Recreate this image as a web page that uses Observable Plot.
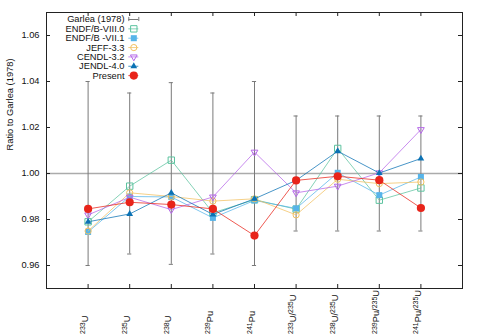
<!DOCTYPE html>
<html><head><meta charset="utf-8">
<script src="https://cdn.jsdelivr.net/npm/d3@7"></script>
<script src="https://cdn.jsdelivr.net/npm/@observablehq/plot@0.6"></script>
<style>body{margin:0;background:#fff} svg{display:block}</style>
</head><body><div id="chart"></div>
<script>
// ---- data ----
const categories = ["233U","235U","238U","239Pu","241Pu","233U/235U","238U/235U","239Pu/235U","241Pu/235U"];
const garleaValue = [1,1,1,1,1,1,1,1,1];
const garleaError = [0.04,0.035,0.0395,0.035,0.04,0.025,0.025,0.025,0.025];
const endf80  = [0.979,0.9945,1.0058,0.9829,0.9886,0.9845,1.0109,0.9884,0.9937];
const endf71  = [0.9746,0.990,0.9898,0.9807,0.9883,0.9848,1.0003,0.9906,0.9985];
const jeff33  = [0.975,0.9916,0.990,0.988,0.989,0.982,0.9975,0.9956,0.9963];
const cendl32 = [0.982,0.9897,0.9843,0.9898,1.0093,0.9916,0.9945,1.0003,1.0191];
const jendl40 = [0.979,0.9824,0.9916,0.9822,0.9890,0.997,1.0097,1.0002,1.0065];
const present = [0.9846,0.9875,0.9865,0.9846,0.973,0.997,0.9988,0.9971,0.985];
const yTicks = [0.96,0.98,1.00,1.02,1.04,1.06];
const seriesNames = ["Garlea (1978)","ENDF/B-VIII.0","ENDF/B -VII.1","JEFF-3.3","CENDL-3.2","JENDL-4.0","Present"];

// ---- layout ----
const W = 479, H = 335, mL = 46, mR = 17, mT = 12, mB = 47;
const plotW = W - mL - mR, plotH = H - mT - mB;
const yDomain = [0.95, 1.07], xDomain = [0, 10];
const pxToY = py => yDomain[1] - (py - mT) / plotH * (yDomain[1] - yDomain[0]);
const pxToX = px => xDomain[0] + (px - mL) / plotW * (xDomain[1] - xDomain[0]);
const textColor = "#111";

const triangleDown = {draw(ctx, size) {
  const y = -Math.sqrt(size / (Math.sqrt(3) * 3));
  ctx.moveTo(0, -y * 2); ctx.lineTo(-Math.sqrt(3) * y, y); ctx.lineTo(Math.sqrt(3) * y, y); ctx.closePath();
}};

const series = [
  {name: seriesNames[1], values: endf80, color: "#5cc39f", symbol: "square", r: 3.6, filled: false},
  {name: seriesNames[2], values: endf71, color: "#56b4e9", symbol: "square", r: 3.4, filled: true},
  {name: seriesNames[3], values: jeff33, color: "#f2c060", symbol: "circle", r: 3.1, filled: false},
  {name: seriesNames[4], values: cendl32, color: "#b566e8", symbol: triangleDown, r: 2.5, filled: false},
  {name: seriesNames[5], values: jendl40, color: "#0b72b4", symbol: "triangle", r: 2.5, filled: true},
  {name: seriesNames[6], values: present, color: "#e8241a", symbol: "circle", r: 4.1, filled: true}
];
const xs = categories.map((_, i) => i + 1);
const garlea = garleaValue.map((v, i) => ({x: i + 1, y: v, lo: v - garleaError[i], hi: v + garleaError[i]}));
const garleaColor = "#7a7a7a";
const capW = 0.05;

// legend geometry (pixels -> data units)
const legRowPx = i => 19 + i * 9.35;
const legTextX = pxToX(124), legSymX = pxToX(133.3), legL = pxToX(128.3), legR = pxToX(138.3);
const capH = 0.0009;

const marks = [
  Plot.ruleY([1], {stroke: "#ababab", strokeWidth: 1.5}),
  Plot.ruleX(garlea, {x: "x", y1: "lo", y2: "hi", stroke: garleaColor}),
  Plot.ruleY(garlea, {y: "lo", x1: d => d.x - capW, x2: d => d.x + capW, stroke: garleaColor}),
  Plot.ruleY(garlea, {y: "hi", x1: d => d.x - capW, x2: d => d.x + capW, stroke: garleaColor})
];
for (const s of series) {
  const rows = s.values.map((v, i) => ({x: i + 1, y: v}));
  marks.push(Plot.line(rows, {x: "x", y: "y", stroke: s.color, strokeWidth: 1, strokeOpacity: 0.75}));
  marks.push(Plot.dot(rows, {x: "x", y: "y", symbol: s.symbol, r: s.r,
    fill: s.filled ? s.color : "none", stroke: s.color, strokeWidth: s.filled ? 0 : 1}));
}
// axes ticks (inward, mirrored)
marks.push(
  Plot.tickY(yTicks, {y: d => d, insetRight: plotW - 4, stroke: "#222"}),
  Plot.tickY(yTicks, {y: d => d, insetLeft: plotW - 4, stroke: "#222"}),
  Plot.tickX(xs, {x: d => d, insetTop: plotH - 4, stroke: "#222"}),
  Plot.tickX(xs, {x: d => d, insetBottom: plotH - 4, stroke: "#222"}),
  Plot.frame({stroke: "#222"}),
  Plot.axisY(yTicks, {tickSize: 0, tickPadding: 7, tickFormat: d => d.toFixed(2), fontSize: 9.3, fill: textColor, label: null}),
  Plot.text(xs, {x: d => d, frameAnchor: "bottom", dy: 45.5, rotate: -90, textAnchor: "start",
    text: d => categories[d - 1], fontSize: 9.3, fill: textColor, className: "xlab"}),
  Plot.text(["Ratio to Garlea (1978)"], {frameAnchor: "left", dx: -36, rotate: -90, fontSize: 9.3, fill: textColor})
);
// legend
const legendRows = seriesNames.map((name, i) => ({name, y: pxToY(legRowPx(i))}));
marks.push(Plot.text(legendRows, {x: legTextX, y: "y", text: "name", textAnchor: "end", fontSize: 9.3, fill: textColor}));
const g0 = legendRows[0];
marks.push(
  Plot.ruleY([g0], {y: "y", x1: legL, x2: legR, stroke: garleaColor}),
  Plot.ruleX([g0], {x: legL, y1: d => d.y - capH, y2: d => d.y + capH, stroke: garleaColor}),
  Plot.ruleX([g0], {x: legR, y1: d => d.y - capH, y2: d => d.y + capH, stroke: garleaColor})
);
series.forEach((s, k) => {
  const row = legendRows[k + 1];
  marks.push(
    Plot.ruleY([row], {y: "y", x1: legL, x2: legR, stroke: s.color, strokeWidth: 1, strokeOpacity: 0.75}),
    Plot.dot([row], {x: legSymX, y: "y", symbol: s.symbol, r: s.r,
      fill: s.filled ? s.color : "none", stroke: s.color, strokeWidth: s.filled ? 0 : 1})
  );
});

const chart = Plot.plot({
  width: W, height: H,
  marginLeft: mL, marginRight: mR, marginTop: mT, marginBottom: mB,
  style: {fontFamily: "'Liberation Sans', Arial, sans-serif", fontSize: "9px", background: "#fff", color: "#222"},
  x: {type: "linear", domain: xDomain, axis: null},
  y: {type: "linear", domain: yDomain, axis: null},
  marks
});

// superscript mass numbers in x labels
const NS = "http://www.w3.org/2000/svg";
chart.querySelectorAll('.xlab text').forEach(t => {
  const str = t.textContent;
  t.textContent = "";
  str.split("/").forEach((p, j) => {
    const m = p.match(/^(\d+)([A-Za-z]+)$/);
    if (j > 0) {
      const sl = document.createElementNS(NS, "tspan");
      sl.textContent = "/"; t.appendChild(sl);
    }
    const sup = document.createElementNS(NS, "tspan");
    sup.setAttribute("font-size", "7"); sup.setAttribute("dy", "-2.8"); sup.textContent = m[1];
    const el = document.createElementNS(NS, "tspan");
    el.setAttribute("dy", "2.8"); el.textContent = m[2];
    t.appendChild(sup); t.appendChild(el);
  });
});
document.getElementById("chart").appendChild(chart);
</script>
</body></html>
